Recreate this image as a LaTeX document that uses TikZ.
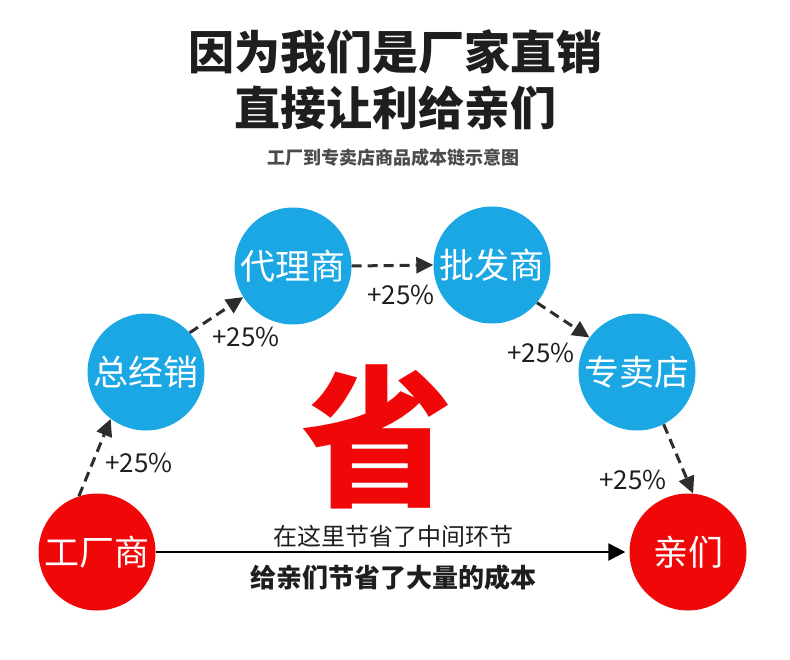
\documentclass[tikz,border=0pt]{standalone}
\usepackage{fontspec}
\setmainfont{Noto Sans CJK SC}
\usetikzlibrary{arrows.meta}
\definecolor{cblue}{RGB}{27,167,228}
\definecolor{cred}{RGB}{240,8,8}
\definecolor{ink}{RGB}{30,30,30}
\definecolor{dash}{RGB}{45,45,45}
\tikzset{
  bluec/.style={circle,fill=cblue,minimum size=117pt,inner sep=0pt,text=white,font=\fontsize{35}{35}\selectfont},
  redc/.style={circle,fill=cred,minimum size=117pt,inner sep=0pt,text=white,font=\fontsize{35}{35}\selectfont},
  flow/.style={draw=dash,line width=3pt,dash pattern=on 10pt off 6pt,-{Triangle[length=17pt,width=16pt]}},
  pct/.style={text=ink,font=\fontsize{26}{26}\selectfont,inner sep=0pt},
}
\begin{document}
\begin{tikzpicture}[x=1pt,y=-1pt]
\useasboundingbox (0,0) rectangle (790,659);
\node[text=ink,font=\bfseries\fontsize{46}{46}\selectfont] (t1) at (395,52) {因为我们是厂家直销};
\node[text=ink,font=\bfseries\fontsize{46}{46}\selectfont] (t2) at (395,108) {直接让利给亲们};
\node[text=ink!80,font=\bfseries\fontsize{18}{18}\selectfont] (t3) at (393,158) {工厂到专卖店商品成本链示意图};

\node[redc] (f) at (97,552) {工厂商};
\node[bluec] (z) at (146,372) {总经销};
\node[bluec] (d) at (293,266) {代理商};
\node[bluec] (p) at (492,265) {批发商};
\node[bluec] (s) at (637,372) {专卖店};
\node[redc] (q) at (688,552) {亲们};

\node[text=cred,font=\bfseries\fontsize{152}{152}\selectfont,inner sep=0pt] (sheng) at (377,437) {省};

\draw[flow] (f.108) -- (z.233);
\draw[flow] (z.42) -- (d.212);
\draw[flow] (d.0) -- (p.180);
\draw[flow] (p.-40) -- (s.144);
\draw[flow] (s.-63) -- (q.85);

\node[pct] (l1) at (139,463) {+25\%};
\node[pct] (l2) at (246,337) {+25\%};
\node[pct] (l3) at (401,295) {+25\%};
\node[pct] (l4) at (541,353) {+25\%};
\node[pct] (l5) at (633,480) {+25\%};

\draw[draw=black,line width=2.5pt,-{Triangle[length=17pt,width=17pt]},shorten >=4pt] (f.east) -- (q.west);

\node[text=ink,font=\fontsize{24}{24}\selectfont] (m1) at (393,536) {在这里节省了中间环节};
\node[text=ink,font=\bfseries\fontsize{26}{26}\selectfont] (m2) at (393,578) {给亲们节省了大量的成本};
\end{tikzpicture}
\end{document}
